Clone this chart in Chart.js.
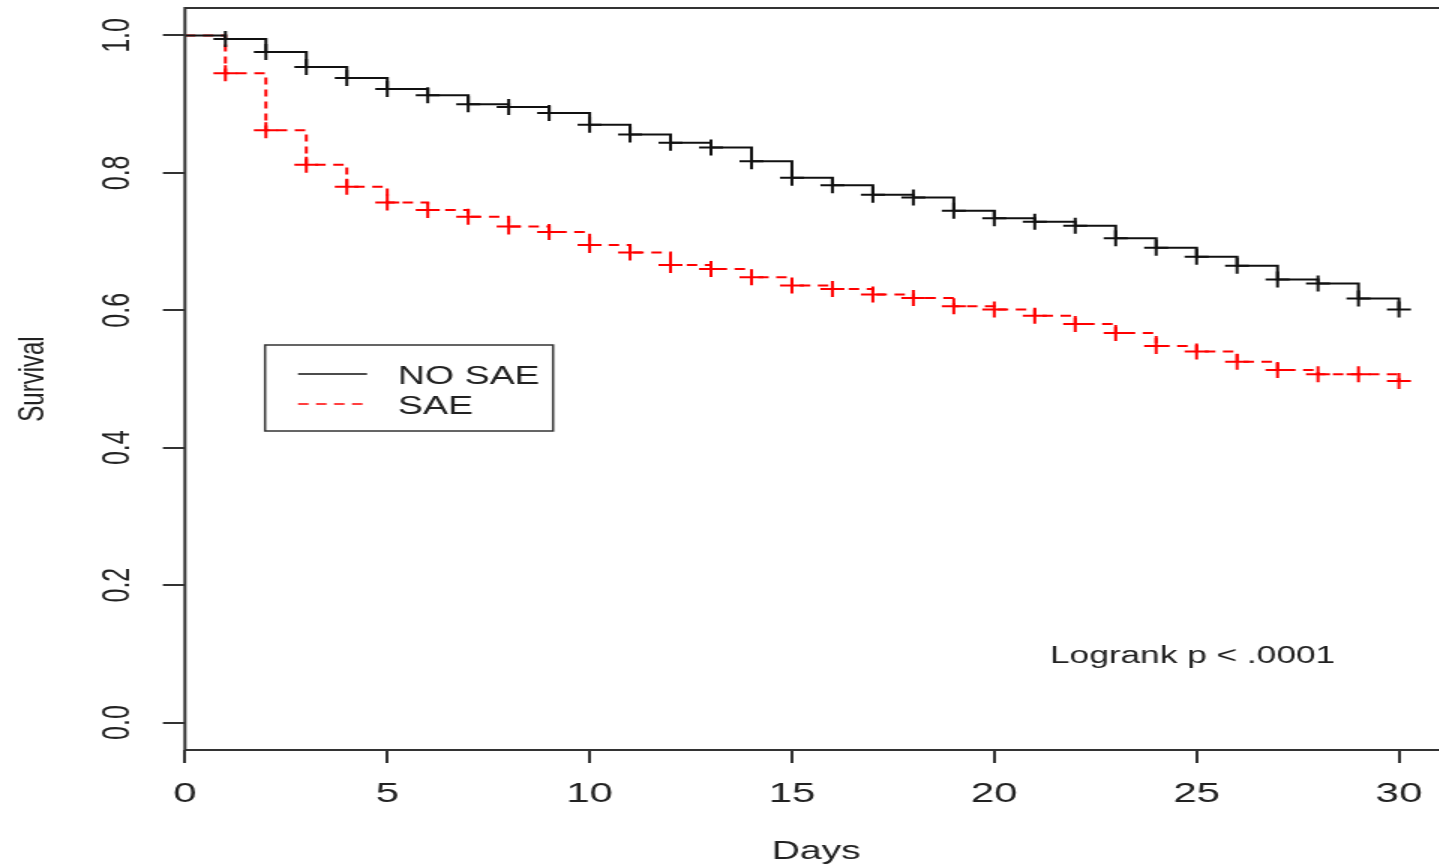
<!DOCTYPE html>
<html>
<head>
<meta charset="utf-8">
<title>Survival by SAE</title>
<script src="https://cdn.jsdelivr.net/npm/chart.js@4/dist/chart.umd.min.js"></script>
<style>
  html, body { margin: 0; padding: 0; background: #fff; overflow: hidden; }
  /* the original picture is stretched sideways, so the whole chart is too */
  #wrap { width: 965px; height: 867px; transform: scaleX(1.5); transform-origin: 0 0; }
</style>
</head>
<body>
<div id="wrap"><canvas id="kmChart" width="965" height="867"></canvas></div>
<script>
// ===== Data =====
const days = [0, 1, 2, 3, 4, 5, 6, 7, 8, 9, 10, 11, 12, 13, 14, 15, 16, 17, 18, 19, 20, 21, 22, 23, 24, 25, 26, 27, 28, 29, 30];
const noSae = [1.000, 0.995, 0.976, 0.954, 0.938, 0.922, 0.913, 0.900, 0.896, 0.887, 0.870, 0.856, 0.844, 0.837, 0.817, 0.793,
               0.782, 0.768, 0.764, 0.745, 0.734, 0.729, 0.723, 0.705, 0.691, 0.678, 0.665, 0.645, 0.639, 0.617, 0.601];
const sae = [1.000, 0.945, 0.862, 0.812, 0.780, 0.757, 0.746, 0.736, 0.722, 0.714, 0.695, 0.684, 0.666, 0.660, 0.648, 0.636,
             0.631, 0.623, 0.618, 0.606, 0.601, 0.592, 0.580, 0.567, 0.548, 0.540, 0.525, 0.513, 0.507, 0.507, 0.497];
const seriesNames = ["NO SAE", "SAE"];
const xTicks = [0, 5, 10, 15, 20, 25, 30];
const yTicks = [0.0, 0.2, 0.4, 0.6, 0.8, 1.0];
const pText = "Logrank p < .0001";

const FONT = "'Liberation Sans', Arial, Helvetica, sans-serif";
const AXIS = "#333";
const TEXT = "#222";

function toPoints(vals) {
  return days.map((d, i) => ({ x: d, y: vals[i] }));
}

// ===== Extra drawing: box, rotated y labels, legend, p-value =====
const rPlot = {
  id: "rPlot",
  afterDraw(chart) {
    const ctx = chart.ctx;
    const a = chart.chartArea;
    const ys = chart.scales.y;
    ctx.save();

    // box round the plot (right side falls off the page, like the original)
    ctx.strokeStyle = AXIS;
    ctx.lineWidth = 2;
    ctx.strokeRect(a.left, a.top, a.right - a.left + 4, a.bottom - a.top);

    // y tick labels, turned like R does
    ctx.fillStyle = TEXT;
    ctx.font = "25px " + FONT;
    ctx.textAlign = "center";
    ctx.textBaseline = "middle";
    yTicks.forEach(v => {
      const py = ys.getPixelForValue(v);
      ctx.save();
      ctx.translate(79, py);
      ctx.rotate(-Math.PI / 2);
      ctx.fillText(v.toFixed(1), 0, 0);
      ctx.restore();
    });

    // legend box
    const lx = 176.7, ly = 345, lw = 192, lh = 86;
    ctx.strokeStyle = AXIS;
    ctx.lineWidth = 1.5;
    ctx.strokeRect(lx, ly, lw, lh);
    chart.data.datasets.forEach((ds, i) => {
      const yy = 374 + i * 30;
      ctx.strokeStyle = ds.borderColor;
      ctx.lineWidth = 1.5;
      ctx.setLineDash(ds.borderDash || []);
      ctx.beginPath();
      ctx.moveTo(198.7, yy);
      ctx.lineTo(244.7, yy);
      ctx.stroke();
      ctx.setLineDash([]);
      ctx.fillStyle = TEXT;
      ctx.font = "25px " + FONT;
      ctx.textAlign = "left";
      ctx.textBaseline = "middle";
      ctx.fillText(ds.label, 265.3, yy + 3);
    });

    // p-value note
    ctx.font = "23.5px " + FONT;
    ctx.textAlign = "left";
    ctx.textBaseline = "middle";
    ctx.fillStyle = TEXT;
    ctx.fillText(pText, 700, 657);

    ctx.restore();
  }
};

// ===== Chart =====
const ctx = document.getElementById("kmChart").getContext("2d");
new Chart(ctx, {
  type: "line",
  data: {
    datasets: [
      {
        label: seriesNames[0],
        data: toPoints(noSae),
        borderColor: "#111",
        borderWidth: 2,
        stepped: "before",
        pointStyle: "cross",
        pointRadius: c => (c.dataIndex === 0 ? 0 : 8),
        pointBorderColor: "#111",
        pointBorderWidth: 2,
        fill: false
      },
      {
        label: seriesNames[1],
        data: toPoints(sae),
        borderColor: "#ff0000",
        borderWidth: 2,
        borderDash: [7, 5],
        stepped: "before",
        pointStyle: "cross",
        pointRadius: c => (c.dataIndex === 0 ? 0 : 8),
        pointBorderColor: "#ff0000",
        pointBorderWidth: 2,
        fill: false
      }
    ]
  },
  options: {
    responsive: false,
    animation: false,
    devicePixelRatio: 1,
    layout: { autoPadding: false, padding: { left: 0, top: 8, right: 0, bottom: 0 } },
    plugins: {
      legend: { display: false },
      tooltip: { enabled: false }
    },
    scales: {
      x: {
        type: "linear",
        min: 0,
        max: 31.2,
        afterFit: s => { s.height = 117; s.paddingLeft = 0; s.paddingRight = 0; },
        afterBuildTicks: s => { s.ticks = xTicks.map(v => ({ value: v })); },
        border: { display: false },
        grid: { drawOnChartArea: false, drawTicks: true, tickLength: 13, color: AXIS, lineWidth: 2 },
        ticks: { color: TEXT, font: { family: FONT, size: 28 }, padding: 14, maxRotation: 0 },
        title: { display: true, text: "Days", color: TEXT, font: { family: FONT, size: 26 }, padding: { top: 0, bottom: 0 } }
      },
      y: {
        type: "linear",
        min: -0.04,
        max: 1.04,
        afterFit: s => { s.width = 123.3; s.paddingTop = 0; s.paddingBottom = 0; },
        afterBuildTicks: s => { s.ticks = yTicks.map(v => ({ value: v })); },
        border: { display: false },
        grid: { drawOnChartArea: false, drawTicks: true, tickLength: 14.7, color: AXIS, lineWidth: 2 },
        ticks: { display: false },
        title: { display: true, text: "Survival", color: TEXT, font: { family: FONT, size: 24 }, padding: { top: 8, bottom: 0 } }
      }
    }
  },
  plugins: [rPlot]
});
</script>
</body>
</html>
